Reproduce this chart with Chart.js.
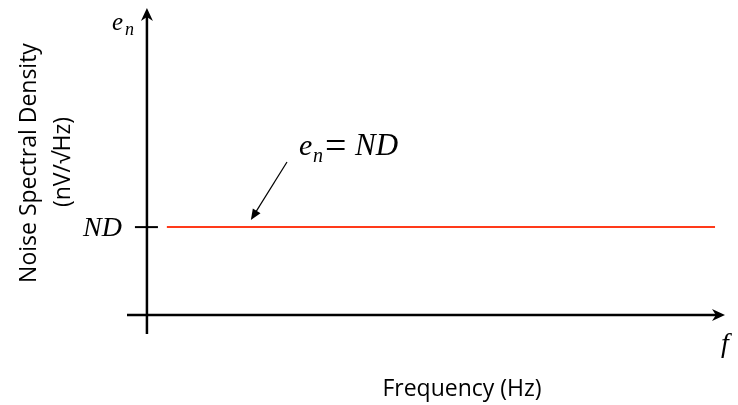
<!DOCTYPE html>
<html>
<head>
<meta charset="utf-8">
<script src="https://cdn.jsdelivr.net/npm/chart.js@4/dist/chart.umd.min.js"></script>
<style>
  html, body { margin: 0; padding: 0; background: #fff; }
  #wrap { width: 738px; height: 405px; }
</style>
</head>
<body>
<div id="wrap"><canvas id="noise"></canvas></div>
<script>
// frequency (arbitrary units) and noise density level
var freq = [1, 28.5];
var density = [4.64, 4.64];
var yTickValues = [4.64];
var yTickLabels = ['ND'];

var serif = '"Liberation Serif", "Times New Roman", serif';
var sans = '"Open Sans", "Noto Sans", sans-serif';

function arrowHead(ctx, x, y, angle, len, half){
    ctx.save();
    ctx.translate(x, y);
    ctx.rotate(angle);
    ctx.beginPath();
    ctx.moveTo(0, 0);
    ctx.lineTo(-len, -half);
    ctx.lineTo(-len * 0.7, 0);
    ctx.lineTo(-len, half);
    ctx.closePath();
    ctx.fill();
    ctx.restore();
}

var sketchAxes = {
    id: 'sketchAxes',
    afterDraw: function(chart){
        var ctx = chart.ctx;
        var xs = chart.scales.x, ys = chart.scales.y;
        var x0 = xs.getPixelForValue(0);
        var y0 = ys.getPixelForValue(0);
        var left = xs.left, right = xs.right, top = ys.top, bottom = ys.bottom;
        ctx.save();
        ctx.strokeStyle = '#000';
        ctx.fillStyle = '#000';
        ctx.lineWidth = 2.5;
        // y axis
        ctx.beginPath();
        ctx.moveTo(x0, bottom);
        ctx.lineTo(x0, top + 6);
        ctx.stroke();
        arrowHead(ctx, x0, top, -Math.PI / 2, 13, 6);
        // x axis
        ctx.beginPath();
        ctx.moveTo(left, y0);
        ctx.lineTo(right - 6, y0);
        ctx.stroke();
        arrowHead(ctx, right, y0, 0, 13, 6);

        // y ticks
        ctx.lineWidth = 2;
        yTickValues.forEach(function(v, i){
            var py = ys.getPixelForValue(v);
            ctx.beginPath();
            ctx.moveTo(x0 - 12, py);
            ctx.lineTo(x0 + 11, py);
            ctx.stroke();
            ctx.font = 'italic 28px ' + serif;
            ctx.textAlign = 'right';
            ctx.textBaseline = 'alphabetic';
            ctx.fillText(yTickLabels[i], x0 - 25, py + 9);
        });

        // axis symbols
        ctx.textAlign = 'left';
        ctx.font = 'italic 25px ' + serif;
        ctx.fillText('e', x0 - 35, top + 22);
        ctx.font = 'italic 18px ' + serif;
        ctx.fillText('n', x0 - 22, top + 27);
        ctx.font = 'italic 28px ' + serif;
        ctx.fillText('f', right - 4, y0 + 37);

        // annotation
        var lx = xs.getPixelForValue(freq[0]);
        var ly = ys.getPixelForValue(density[0]);
        ctx.font = 'italic 30px ' + serif;
        ctx.fillText('e', 299, 155);
        ctx.font = 'italic 20px ' + serif;
        ctx.fillText('n', 313, 162);
        ctx.font = '38px ' + serif;
        ctx.fillText('=', 325, 158);
        ctx.font = 'italic 31px ' + serif;
        ctx.fillText('ND', 355, 155);
        ctx.lineWidth = 1.2;
        var ax = lx + 84, ay = ly - 7;
        ctx.beginPath();
        ctx.moveTo(287, 162);
        ctx.lineTo(ax + 3, ay - 5);
        ctx.stroke();
        var ang = Math.atan2(ay - 162, ax - 287);
        ctx.beginPath();
        ctx.save();
        ctx.translate(ax, ay);
        ctx.rotate(ang);
        ctx.moveTo(0, 0);
        ctx.lineTo(-11, -4.5);
        ctx.lineTo(-11, 4.5);
        ctx.closePath();
        ctx.fill();
        ctx.restore();

        // titles
        ctx.font = '23px ' + sans;
        ctx.textAlign = 'center';
        ctx.textBaseline = 'middle';
        ctx.fillText('Frequency (Hz)', 462, 389);
        ctx.save();
        ctx.translate(29, 163);
        ctx.rotate(-Math.PI / 2);
        ctx.fillText('Noise Spectral Density', 0, 0);
        ctx.restore();
        ctx.save();
        ctx.translate(63, 162);
        ctx.rotate(-Math.PI / 2);
        ctx.fillText('(nV/\u221AHz)', 0, 0);
        ctx.restore();
        ctx.restore();
    }
};

new Chart('noise', {
    type: 'scatter',
    data: {
        datasets: [{
            label: 'en = ND',
            data: freq.map(function(f, i){ return {x: f, y: density[i]}; }),
            showLine: true,
            borderColor: '#ff3a1a',
            borderWidth: 2,
            pointRadius: 0
        }]
    },
    options: {
        responsive: true,
        maintainAspectRatio: false,
        animation: false,
        layout: { padding: { left: 127, right: 13, top: 8, bottom: 71 } },
        plugins: { legend: { display: false }, tooltip: { enabled: false } },
        scales: {
            x: { type: 'linear', min: -1, max: 29, display: false },
            y: { type: 'linear', min: -1, max: 16.2, display: false }
        }
    },
    plugins: [sketchAxes]
});
</script>
</body>
</html>
